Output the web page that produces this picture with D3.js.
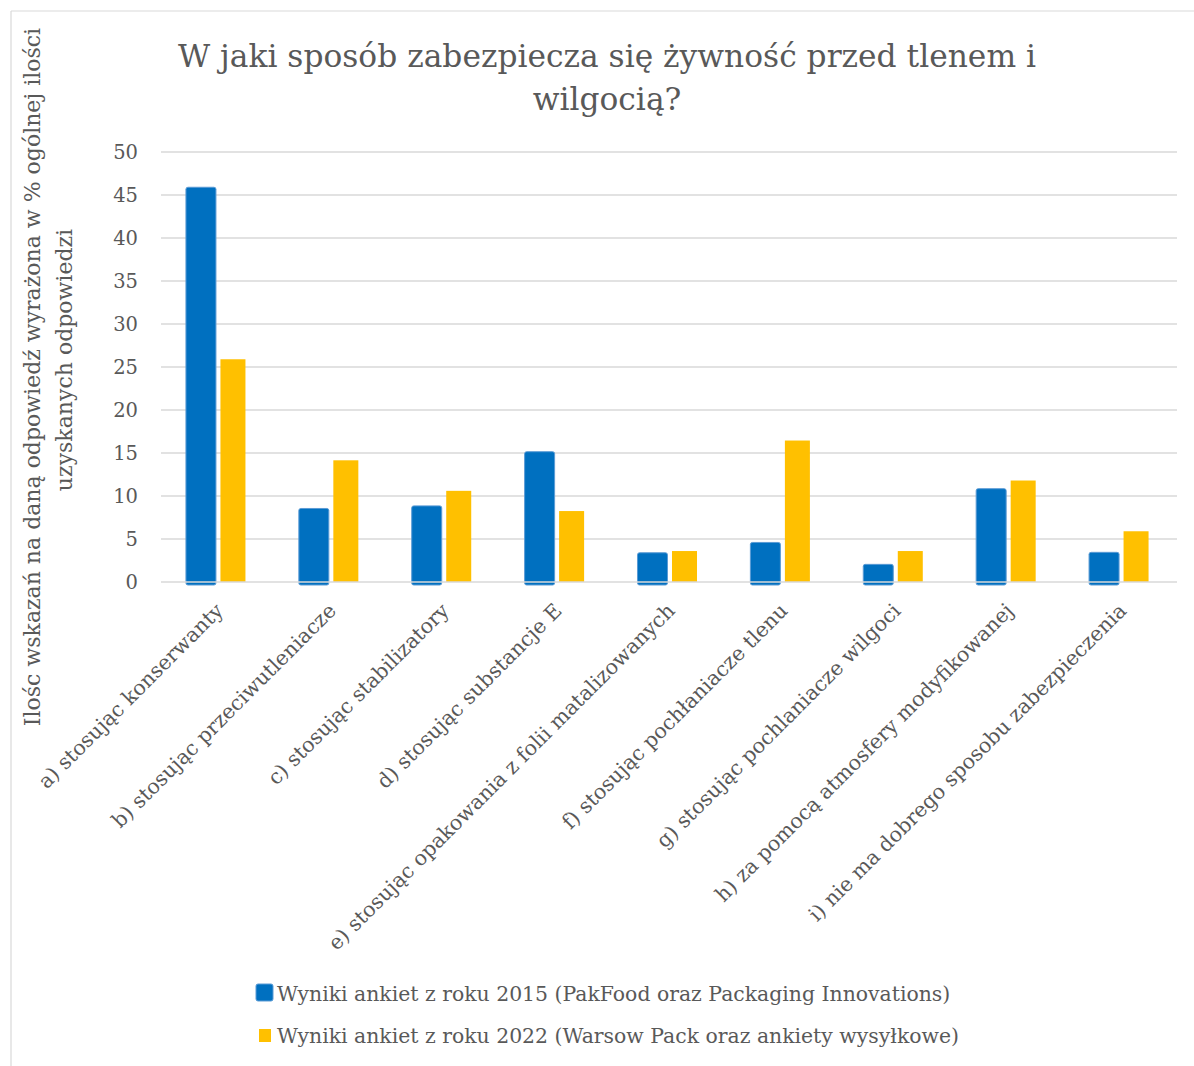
<!DOCTYPE html>
<html>
<head>
<meta charset="utf-8">
<script src="https://cdn.jsdelivr.net/npm/d3@7"></script>
<style>
  html, body { margin: 0; padding: 0; background: #fff; }
  svg { display: block; }
  text { font-family: "DejaVu Serif", "Liberation Serif", serif; fill: #595959; }
</style>
</head>
<body>
<svg id="chart" width="1194" height="1066"></svg>
<script>
const categories = [
  "a) stosując konserwanty",
  "b) stosując przeciwutleniacze",
  "c) stosując stabilizatory",
  "d) stosując substancje E",
  "e) stosując opakowania z folii matalizowanych",
  "f) stosując pochłaniacze tlenu",
  "g) stosując pochlaniacze wilgoci",
  "h) za pomocą atmosfery modyfikowanej",
  "i) nie ma dobrego sposobu zabezpieczenia"
];
const series2015 = [45.9, 8.55, 8.85, 15.15, 3.4, 4.6, 2.05, 10.85, 3.45];
const series2022 = [25.9, 14.15, 10.6, 8.25, 3.6, 16.45, 3.6, 11.8, 5.9];
const seriesNames = [
  "Wyniki ankiet z roku 2015 (PakFood oraz Packaging Innovations)",
  "Wyniki ankiet z roku 2022 (Warsow Pack oraz ankiety wysyłkowe)"
];
const seriesColors = ["#0070C0", "#FFC000"];
const yTicks = [0, 5, 10, 15, 20, 25, 30, 35, 40, 45, 50];
const titleLines = ["W jaki sposób zabezpiecza się żywność przed tlenem i", "wilgocią?"];
const yTitleLines = ["Ilośc wskazań na daną odpowiedź wyrażona w % ogólnej ilości", "uzyskanych odpowiedzi"];

const svg = d3.select("#chart");

// chart frame
svg.append("line").attr("x1", 11).attr("y1", 11).attr("x2", 1194).attr("y2", 11)
  .attr("stroke", "#d9d9d9").attr("stroke-width", 1.2);
svg.append("line").attr("x1", 11).attr("y1", 11).attr("x2", 11).attr("y2", 1066)
  .attr("stroke", "#d9d9d9").attr("stroke-width", 1.2);

const plot = { left: 161, right: 1177, top: 152, bottom: 582 };

const y = d3.scaleLinear().domain([0, 50]).range([plot.bottom, plot.top]);
const x0 = d3.scaleBand().domain(categories).range([plot.left, plot.right])
  .paddingInner(0.433).paddingOuter(0.2165);
const x1 = d3.scaleBand().domain([0, 1]).range([0, x0.bandwidth()]);

// gridlines
svg.append("g").selectAll("line").data(yTicks.filter(d => d > 0)).join("line")
  .attr("x1", plot.left).attr("x2", plot.right)
  .attr("y1", d => y(d)).attr("y2", d => y(d))
  .attr("stroke", "#d9d9d9").attr("stroke-width", 1.5);

// tick labels
svg.append("g").selectAll("text").data(yTicks).join("text")
  .attr("x", 138).attr("y", d => y(d))
  .attr("dy", "0.35em")
  .attr("text-anchor", "end")
  .style("font-size", "19.5px")
  .text(d => d);

// bars
const groups = svg.append("g").selectAll("g").data(categories).join("g")
  .attr("transform", d => `translate(${x0(d)},0)`);

groups.append("rect")
  .attr("x", x1(0) + 0.5)
  .attr("width", x1.bandwidth() - 2)
  .attr("y", (d, i) => y(series2015[i]))
  .attr("height", (d, i) => y(0) - y(series2015[i]) + 3)
  .attr("rx", 2)
  .attr("fill", seriesColors[0])
  .attr("stroke", "#5B9BD5").attr("stroke-width", 1);

groups.append("rect")
  .attr("x", x1(1) + 3)
  .attr("width", x1.bandwidth() - 7)
  .attr("y", (d, i) => y(series2022[i]))
  .attr("height", (d, i) => y(0) - y(series2022[i]))
  .attr("fill", seriesColors[1]);

// zero line
svg.append("line").attr("x1", plot.left).attr("x2", plot.right)
  .attr("y1", y(0)).attr("y2", y(0))
  .attr("stroke", "#d9d9d9").attr("stroke-width", 1.5);

// x labels
svg.append("g").selectAll("text").data(categories).join("text")
  .attr("transform", d => `translate(${x0(d) + x0.bandwidth() / 2 + 7},${612}) rotate(-45)`)
  .attr("text-anchor", "end")
  .style("font-size", "20.5px")
  .text(d => d);

// title
svg.append("g").selectAll("text").data(titleLines).join("text")
  .attr("x", 607).attr("y", (d, i) => 67 + i * 43)
  .attr("text-anchor", "middle")
  .style("font-size", "31.3px")
  .text(d => d);

// y axis title
const yTitlePos = [{ x: 40, c: 377 }, { x: 72, c: 360 }];
svg.append("g").selectAll("text").data(yTitleLines).join("text")
  .attr("transform", (d, i) => `translate(${yTitlePos[i].x},${yTitlePos[i].c}) rotate(-90)`)
  .attr("text-anchor", "middle")
  .style("font-size", "22px")
  .text(d => d);

// legend
const legendRows = [{ y: 1001, sq: [256, 984, 17, 17] }, { y: 1043, sq: [259, 1029, 12, 13] }];
const leg = svg.append("g").selectAll("g").data(seriesNames).join("g");
leg.append("rect")
  .attr("x", (d, i) => legendRows[i].sq[0]).attr("y", (d, i) => legendRows[i].sq[1])
  .attr("width", (d, i) => legendRows[i].sq[2]).attr("height", (d, i) => legendRows[i].sq[3])
  .attr("rx", (d, i) => i === 0 ? 2 : 0)
  .attr("fill", (d, i) => seriesColors[i])
  .attr("stroke", (d, i) => i === 0 ? "#5B9BD5" : "none");
leg.append("text")
  .attr("x", 277).attr("y", (d, i) => legendRows[i].y)
  .style("font-size", "20.4px")
  .text(d => d);
</script>
</body>
</html>
